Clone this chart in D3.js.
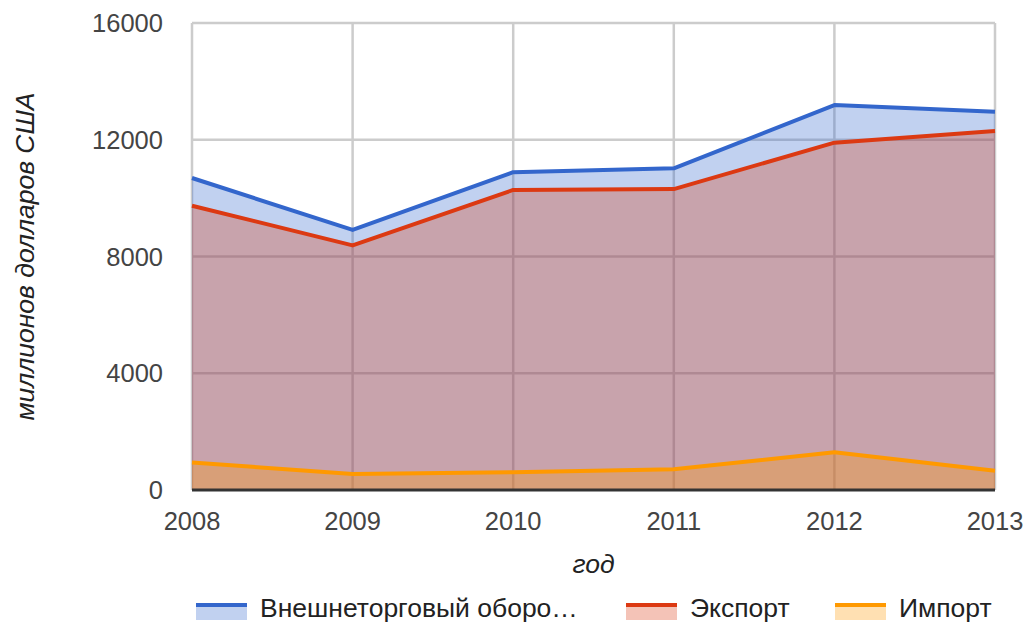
<!DOCTYPE html>
<html>
<head>
<meta charset="utf-8">
<script src="https://cdn.jsdelivr.net/npm/d3@7/dist/d3.min.js"></script>
<style>
  html, body { margin: 0; padding: 0; background: #fff; }
  svg { display: block; font-family: "Liberation Sans", Arial, sans-serif; }
</style>
</head>
<body>
<svg id="chart" width="1029" height="623"></svg>
<script>
// Years along the x axis
const years = [2008, 2009, 2010, 2011, 2012, 2013];
// Values, millions of US dollars
const turnover = [10690, 8910, 10890, 11020, 13190, 12960];
const exports_ = [9740, 8380, 10280, 10310, 11900, 12300];
const imports_ = [940, 550, 610, 710, 1290, 660];
// Series names as shown in the legend
const seriesNames = ["Внешнеторговый оборо…", "Экспорт", "Импорт"];
const seriesColors = ["#3366cc", "#dc3912", "#ff9900"];
// Y axis ticks
const yTicks = [0, 4000, 8000, 12000, 16000];

const series = [turnover, exports_, imports_];

const svg = d3.select("#chart");
const plot = { left: 192, right: 995, top: 23, bottom: 490 };

const x = d3.scalePoint().domain(years).range([plot.left, plot.right]);
const y = d3.scaleLinear().domain([0, 16000]).range([plot.bottom, plot.top]);

// Gridlines
const grid = svg.append("g");
grid.selectAll("line.h").data(yTicks.filter(d => d > 0)).join("line")
  .attr("x1", plot.left).attr("x2", plot.right)
  .attr("y1", d => y(d)).attr("y2", d => y(d))
  .attr("stroke", "#cccccc").attr("stroke-width", 2.5);
grid.selectAll("line.v").data(years).join("line")
  .attr("x1", d => x(d)).attr("x2", d => x(d))
  .attr("y1", plot.top).attr("y2", plot.bottom)
  .attr("stroke", "#cccccc").attr("stroke-width", 2.5);

// Areas (overlapping, translucent) then lines
const area = d3.area().x((d, i) => x(years[i])).y0(y(0)).y1(d => y(d));
const line = d3.line().x((d, i) => x(years[i])).y(d => y(d));

series.forEach((s, k) => {
  svg.append("path").datum(s).attr("d", area)
    .attr("fill", seriesColors[k]).attr("fill-opacity", 0.3);
});
series.forEach((s, k) => {
  svg.append("path").datum(s).attr("d", line)
    .attr("fill", "none").attr("stroke", seriesColors[k])
    .attr("stroke-width", 4).attr("stroke-linejoin", "round");
});

// Baseline
svg.append("line")
  .attr("x1", plot.left).attr("x2", plot.right)
  .attr("y1", y(0)).attr("y2", y(0))
  .attr("stroke", "#333333").attr("stroke-width", 3);

// Y axis labels
svg.append("g").selectAll("text").data(yTicks).join("text")
  .attr("x", 163).attr("y", d => y(d)).attr("dy", "0.36em")
  .attr("text-anchor", "end").attr("font-size", 25.5).attr("fill", "#444")
  .text(d => d);

// X axis labels
svg.append("g").selectAll("text").data(years).join("text")
  .attr("x", d => x(d)).attr("y", 530)
  .attr("text-anchor", "middle").attr("font-size", 25.5).attr("fill", "#444")
  .text(d => d);

// Axis titles
svg.append("text")
  .attr("x", (plot.left + plot.right) / 2).attr("y", 573)
  .attr("text-anchor", "middle").attr("font-size", 26.5).attr("font-style", "italic")
  .attr("fill", "#222").text("год");
svg.append("text")
  .attr("transform", `translate(34, ${(plot.top + plot.bottom) / 2}) rotate(-90)`)
  .attr("text-anchor", "middle").attr("font-size", 26.5).attr("font-style", "italic")
  .attr("fill", "#222").text("миллионов долларов США");

// Legend
const legendX = [196, 626, 835];
const legend = svg.append("g");
seriesNames.forEach((name, k) => {
  const g = legend.append("g").attr("transform", `translate(${legendX[k]}, 0)`);
  g.append("rect").attr("x", 0).attr("y", 604).attr("width", 51).attr("height", 16)
    .attr("fill", seriesColors[k]).attr("fill-opacity", 0.3);
  g.append("rect").attr("x", 0).attr("y", 603).attr("width", 51).attr("height", 4)
    .attr("fill", seriesColors[k]);
  g.append("text").attr("x", 64).attr("y", 607).attr("dy", "0.36em")
    .attr("font-size", 26.5).attr("fill", "#222").text(name);
});
</script>
</body>
</html>
